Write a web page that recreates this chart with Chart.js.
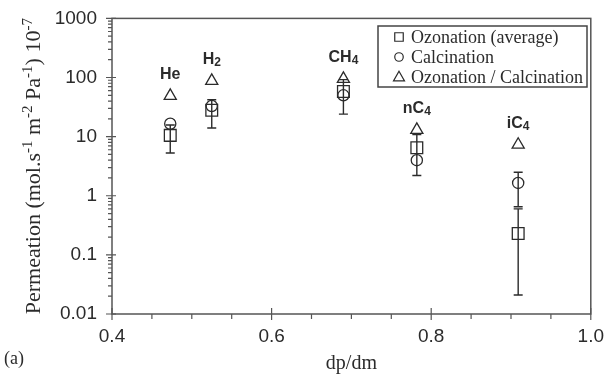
<!DOCTYPE html>
<html lang="en">
<head>
<meta charset="UTF-8">
<title>Permeation vs dp/dm</title>
<style>
  html, body { margin: 0; padding: 0; background: #fff; }
  #wrap { position: relative; width: 607px; height: 375px; }
</style>
</head>
<body>
<div id="wrap"><canvas id="chart" width="607" height="375"></canvas></div>

<script src="https://cdn.jsdelivr.net/npm/chart.js"></script>
<script>
// values
const gases = ['He', 'H2', 'CH4', 'nC4', 'iC4'];
const dpdm = [0.473, 0.525, 0.69, 0.782, 0.909];
const ozonation = [10.5, 28, 58, 6.5, 0.23];
const ozonationLow = [5.3, 14, 24, 2.2, 0.021];
const ozonationHigh = [15.7, 42, 92, 10.8, 0.6];
const calcination = [16.5, 33, 50, 4.0, 1.65];
const calcinationLow = [null, null, null, null, 0.65];
const calcinationHigh = [null, null, null, null, 2.5];
const ozoCalc = [49, 88, 95, 13, 7.3];
const seriesNames = ['Ozonation (average)', 'Calcination', 'Ozonation / Calcination'];
const xTicks = [0.4, 0.6, 0.8, 1.0];
const yTicks = [0.01, 0.1, 1, 10, 100, 1000];

const ink = '#2b2b2b';
const serif = '"Liberation Serif", "DejaVu Serif", serif';
const sans = '"Liberation Sans", Arial, sans-serif';

function marker(ctx, style, x, y, s) {
    ctx.beginPath();
    if (style === 'rect') {
        ctx.rect(x - s / 2, y - s / 2, s, s);
    } else if (style === 'circle') {
        ctx.arc(x, y, s / 2, 0, Math.PI * 2);
    } else {
        const h = s * 0.87;
        ctx.moveTo(x, y - h * 0.6);
        ctx.lineTo(x + s / 2, y + h * 0.4);
        ctx.lineTo(x - s / 2, y + h * 0.4);
        ctx.closePath();
    }
    ctx.stroke();
}

// draw text pieces, flagged 0 = normal, 1 = superscript, -1 = subscript
function pieces(ctx, parts, x, y, size, family, weight, small, lift) {
    const fs = p => p[1] ? Math.round(size * small) : size;
    let w = 0;
    parts.forEach(p => {
        ctx.font = weight + ' ' + fs(p) + 'px ' + family;
        w += ctx.measureText(p[0]).width;
    });
    let cx = x - w / 2;
    parts.forEach(p => {
        ctx.font = weight + ' ' + fs(p) + 'px ' + family;
        ctx.fillText(p[0], cx, y - p[1] * size * lift);
        cx += ctx.measureText(p[0]).width;
    });
}

const isOn = (list, v) => list.some(t => Math.abs(t - v) < 1e-9 * Math.max(1, t));

const decor = {
    id: 'decor',
    beforeDatasetsDraw(chart) {
        const {ctx, scales: {x, y}} = chart;
        ctx.save();
        ctx.strokeStyle = ink;
        ctx.lineWidth = 1.4;
        [[ozonationLow, ozonationHigh], [calcinationLow, calcinationHigh]].forEach(([lo, hi]) => {
            dpdm.forEach((v, i) => {
                if (lo[i] == null) return;
                const px = x.getPixelForValue(v);
                const a = y.getPixelForValue(lo[i]);
                const b = y.getPixelForValue(hi[i]);
                ctx.beginPath();
                ctx.moveTo(px, a); ctx.lineTo(px, b);
                ctx.moveTo(px - 4.5, a); ctx.lineTo(px + 4.5, a);
                ctx.moveTo(px - 4.5, b); ctx.lineTo(px + 4.5, b);
                ctx.stroke();
            });
        });
        ctx.restore();
    },
    afterDraw(chart) {
        const {ctx, chartArea: ca, scales: {x, y}} = chart;
        ctx.save();
        ctx.strokeStyle = '#555';
        ctx.lineWidth = 1.5;
        ctx.strokeRect(ca.left, ca.top, ca.right - ca.left, ca.bottom - ca.top);

        // tick marks: majors cross the axis, minors point out
        ctx.lineWidth = 1.2;
        ctx.beginPath();
        x.ticks.forEach(t => {
            const px = x.getPixelForValue(t.value);
            const major = isOn(xTicks, t.value);
            ctx.moveTo(px, ca.bottom - (major ? 6 : 0));
            ctx.lineTo(px, ca.bottom + (major ? 6 : 5));
        });
        y.ticks.forEach(t => {
            const py = y.getPixelForValue(t.value);
            const major = isOn(yTicks, t.value);
            ctx.moveTo(ca.left - (major ? 6 : 4), py);
            ctx.lineTo(ca.left + (major ? 4 : 0), py);
        });
        ctx.stroke();

        // gas names above the triangles
        ctx.fillStyle = ink;
        ctx.textBaseline = 'middle';
        ctx.textAlign = 'left';
        gases.forEach((g, i) => {
            const m = g.match(/^(\D+)(\d*)$/);
            const parts = [[m[1], 0]];
            if (m[2]) parts.push([m[2], -1]);
            pieces(ctx, parts, x.getPixelForValue(dpdm[i]), y.getPixelForValue(ozoCalc[i]) - 21,
                16, sans, 'bold', 0.78, 0.2);
        });

        // y axis title with superscripts
        ctx.save();
        ctx.translate(40, (ca.top + ca.bottom) / 2);
        ctx.rotate(-Math.PI / 2);
        ctx.textBaseline = 'alphabetic';
        pieces(ctx, [['Permeation (mol.s', 0], ['-1', 1], [' m', 0], ['-2', 1], [' Pa', 0], ['-1', 1],
            [') 10', 0], ['-7', 1]], 0, 0, 22, serif, 'normal', 0.66, 0.38);
        ctx.restore();

        // panel letter
        ctx.font = '18px ' + serif;
        ctx.textBaseline = 'middle';
        ctx.fillText('(a)', 4, 359);

        // legend box
        const lg = {x: 378, y: 26, w: 209, h: 61};
        ctx.fillStyle = '#fff';
        ctx.fillRect(lg.x, lg.y, lg.w, lg.h);
        ctx.strokeStyle = '#444';
        ctx.lineWidth = 1.5;
        ctx.strokeRect(lg.x, lg.y, lg.w, lg.h);
        ctx.lineWidth = 1.2;
        ctx.strokeStyle = ink;
        ctx.fillStyle = ink;
        ['rect', 'circle', 'triangle'].forEach((st, i) => {
            const ry = lg.y + 11 + i * 20;
            marker(ctx, st, lg.x + 21, ry, st === 'triangle' ? 11 : 8.5);
            ctx.font = '18px ' + serif;
            ctx.fillText(seriesNames[i], lg.x + 33, ry + 1);
        });
        ctx.restore();
    }
};

const pts = vals => dpdm.map((v, i) => ({x: v, y: vals[i]}));
const clear = 'rgba(0,0,0,0)';

new Chart(document.getElementById('chart'), {
    type: 'scatter',
    data: {
        datasets: [
            {label: seriesNames[0], data: pts(ozonation), pointStyle: 'rect', pointRadius: 8.3,
                borderColor: ink, backgroundColor: clear, borderWidth: 1.3},
            {label: seriesNames[1], data: pts(calcination), pointStyle: 'circle', pointRadius: 5.6,
                borderColor: ink, backgroundColor: clear, borderWidth: 1.3},
            {label: seriesNames[2], data: pts(ozoCalc), pointStyle: 'triangle', pointRadius: 7,
                borderColor: ink, backgroundColor: clear, borderWidth: 1.3}
        ]
    },
    options: {
        responsive: false,
        animation: false,
        events: [],
        layout: {padding: {left: 0, right: 15, top: 16, bottom: 0}},
        plugins: {legend: {display: false}, tooltip: {enabled: false}},
        scales: {
            x: {
                type: 'linear', min: 0.4, max: 1.0,
                grid: {display: false}, border: {display: false},
                afterFit: s => { s.height = 61; },
                ticks: {
                    stepSize: 0.05, autoSkip: false, maxRotation: 0, padding: 3,
                    color: ink, font: {family: sans, size: 19},
                    callback: v => isOn(xTicks, v) ? v.toFixed(1) : ''
                },
                title: {display: true, text: 'dp/dm', color: ink,
                    font: {family: serif, size: 20, lineHeight: 1}, padding: {top: 0, bottom: 1}}
            },
            y: {
                type: 'logarithmic', min: 0.01, max: 1000,
                grid: {display: false}, border: {display: false},
                afterFit: s => { s.width = 112; },
                afterBuildTicks: s => {
                    const t = [];
                    yTicks.forEach((d, k) => {
                        for (let m = 1; m <= 9; m++) {
                            if (k === yTicks.length - 1 && m > 1) break;
                            t.push({value: +(d * m).toPrecision(3)});
                        }
                    });
                    s.ticks = t;
                },
                ticks: {
                    autoSkip: false, padding: 7, color: ink, font: {family: sans, size: 19},
                    callback: v => isOn(yTicks, v) ? String(v) : ''
                }
            }
        }
    },
    plugins: [decor]
});
</script>
</body>
</html>
